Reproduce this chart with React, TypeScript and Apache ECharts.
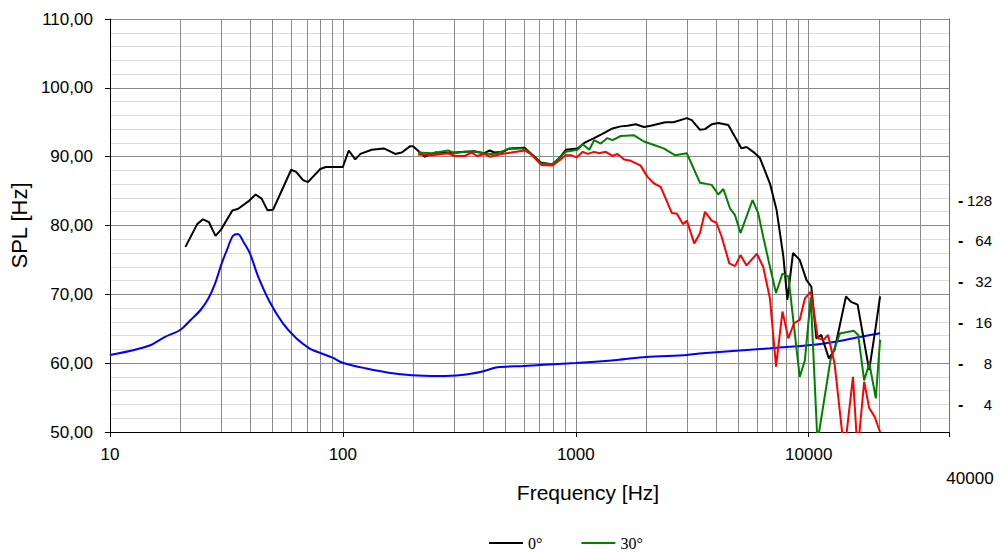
import React, { useEffect, useRef } from "react";
import * as echarts from "echarts";

// 0° on-axis SPL
const freq0 = [21.1, 23.7, 25.1, 26.6, 28.4, 30, 33.6, 35.4, 39.3, 42.2, 44.8, 47.5, 50.2, 60, 63, 67.5, 70.8, 80, 84.5, 93.2, 100, 106, 113, 119, 133, 150, 168, 179, 194, 200, 225, 250, 283, 302, 333, 367, 405, 427, 448, 487, 519, 603, 640, 710, 793, 836, 907, 1017, 1087, 1198, 1301, 1437, 1559, 1666, 1809, 1961, 2096, 2423, 2628, 2996, 3147, 3414, 3585, 3830, 4091, 4514, 5144, 5404, 5776, 6172, 6814, 7281, 7780, 8096, 8560, 9146, 9773, 10260, 10780, 11320, 12200, 12900, 14450, 15180, 16210, 18170, 19400, 20240];
const spl0 = [76.9, 80.2, 80.9, 80.5, 78.5, 79.4, 82.2, 82.4, 83.5, 84.5, 83.9, 82.2, 82.3, 88.1, 87.8, 86.6, 86.3, 88.2, 88.5, 88.5, 88.5, 90.9, 89.6, 90.4, 91.0, 91.2, 90.4, 90.6, 91.5, 91.5, 90.0, 90.6, 90.5, 90.6, 90.7, 90.8, 90.5, 90.9, 90.6, 90.7, 91.2, 91.3, 90.5, 89.1, 88.9, 89.5, 91.0, 91.2, 92.0, 92.7, 93.3, 94.1, 94.4, 94.5, 94.7, 94.3, 94.5, 95.0, 95.0, 95.6, 95.3, 93.9, 94.0, 94.7, 94.9, 94.6, 91.2, 91.4, 90.7, 89.8, 86.1, 82.2, 75.5, 69.2, 76.0, 75.0, 72.1, 71.1, 63.6, 64.1, 60.7, 61.9, 69.7, 68.9, 68.5, 59.0, 65.3, 69.7];

// 30° off-axis SPL
const freq30 = [210, 241, 283, 302, 333, 367, 405, 433, 463, 510, 583, 613, 710, 793, 907, 1017, 1071, 1143, 1198, 1280, 1367, 1437, 1559, 1780, 1961, 2167, 2383, 2672, 2996, 3414, 3830, 4091, 4300, 4590, 4826, 5093, 5738, 6066, 6372, 6814, 7236, 7710, 8174, 9146, 9625, 10200, 10900, 12400, 13600, 15600, 16300, 17290, 18200, 19400, 20240];
const spl30 = [90.6, 90.5, 90.9, 90.5, 90.7, 90.7, 90.5, 90.4, 90.5, 91.1, 91.2, 91.0, 89.0, 88.9, 90.7, 91.0, 91.8, 91.0, 92.4, 91.9, 92.7, 92.4, 93.0, 93.1, 92.2, 91.7, 91.2, 90.2, 90.5, 86.2, 85.9, 84.5, 85.3, 82.5, 81.5, 78.9, 83.7, 81.8, 78.4, 74.0, 70.2, 73.0, 72.6, 58.0, 60.4, 69.6, 48.5, 60.5, 64.3, 64.7, 64.1, 57.5, 60.0, 54.9, 63.4];

// 60° off-axis SPL (not in legend)
const freq60 = [210, 241, 283, 302, 333, 357, 377, 405, 427, 479, 528, 603, 640, 710, 793, 907, 952, 1010, 1071, 1125, 1198, 1259, 1344, 1437, 1509, 1612, 1723, 1898, 2027, 2167, 2314, 2585, 2717, 2882, 2996, 3224, 3414, 3585, 3830, 4012, 4225, 4560, 4826, 5093, 5404, 5990, 6372, 6814, 7236, 7710, 8174, 8640, 9146, 9625, 10210, 10940, 11590, 12100, 12900, 14220, 15480, 16210, 17290, 18170, 19190, 20240];
const spl60 = [90.3, 90.2, 90.5, 90.1, 90.1, 90.6, 90.1, 90.4, 90.0, 90.4, 90.6, 90.9, 90.4, 88.8, 88.7, 90.2, 90.2, 89.9, 90.7, 90.4, 90.7, 90.5, 90.7, 90.1, 90.4, 89.6, 89.4, 88.7, 87.1, 86.1, 85.6, 81.8, 81.7, 80.2, 80.7, 77.4, 78.9, 82.0, 80.7, 80.4, 78.4, 74.5, 74.1, 75.7, 74.2, 75.9, 74.0, 69.4, 59.5, 67.5, 63.6, 65.8, 66.3, 69.4, 70.4, 63.6, 63.4, 64.1, 60.0, 47.0, 58.0, 47.0, 57.3, 53.5, 52.2, 50.0];

// Impedance (ohm, right axis)
const freqZ = [10, 12.7, 15, 17.1, 20, 22.2, 24.5, 26.5, 28.3, 30.2, 32, 33.7, 35.4, 37.6, 39.9, 43.3, 48.5, 55.3, 63.1, 71.8, 79.3, 90.3, 99.6, 125, 157, 198, 257, 323, 393, 462, 600, 700, 1000, 1500, 2000, 3000, 3500, 6814, 10260, 13000, 16300, 20240];
const impZ = [9.32, 10.14, 11.03, 12.57, 14.21, 16.83, 19.93, 24.3, 31.3, 43.9, 56.6, 69.6, 72.0, 62.2, 52.0, 35.0, 22.9, 15.9, 12.36, 10.43, 9.69, 8.9, 8.18, 7.44, 6.91, 6.61, 6.53, 6.64, 7.02, 7.57, 7.73, 7.87, 8.14, 8.56, 9.01, 9.32, 9.59, 10.43, 11.03, 11.66, 12.57, 13.44];

const xTickLabels = [10, 100, 1000, 10000];
const xMinorLines = [20, 30, 40, 50, 60, 70, 80, 90, 200, 300, 400, 500, 600, 700, 800, 900, 2000, 3000, 4000, 5000, 6000, 7000, 8000, 9000, 20000, 30000];
const impTicks = [4, 8, 16, 32, 64, 128];

const zip = (a: number[], b: number[]) => a.map((f, i) => [f, b[i]]);

const SANS = "'Liberation Sans', Arial, sans-serif";
const NARROW = "'Liberation Sans Narrow', 'Arial Narrow', 'Liberation Sans', sans-serif";
const SERIF = "'Liberation Serif', 'Times New Roman', serif";

export default function App() {
  const ref = useRef<HTMLDivElement>(null);
  useEffect(() => {
    const chart = echarts.init(ref.current as HTMLDivElement, null, { renderer: "svg" });
    chart.setOption({
      animation: false,
      grid: { left: 102, right: 51, top: 19, bottom: 120, containLabel: false },
      legend: {
        data: ["0°", "30°"],
        left: 489,
        top: 535,
        padding: 0,
        icon: "rect",
        itemWidth: 34,
        itemHeight: 2,
        itemGap: 39,
        textStyle: { fontFamily: SERIF, fontSize: 16, color: "#000" },
      },
      xAxis: {
        type: "log",
        logBase: 10,
        min: 10,
        max: 40000,
        axisLine: { show: true, lineStyle: { color: "#000", width: 1 } },
        axisTick: { show: true, length: 5, lineStyle: { color: "#000" } },
        axisLabel: {
          margin: 14,
          fontFamily: SANS,
          fontSize: 17,
          color: "#000",
          formatter: (v: number) => {
            const r = Math.round(v);
            return xTickLabels.includes(r) ? String(r) : "";
          },
        },
        splitLine: { show: true, lineStyle: { color: "#8a8a8a", width: 1 } },
      },
      yAxis: [
        {
          type: "value",
          min: 50,
          max: 110,
          interval: 10,
          name: "SPL [Hz]",
          nameLocation: "middle",
          nameGap: 70,
          nameTextStyle: { fontFamily: SANS, fontSize: 22, color: "#000" },
          axisLine: { show: true, lineStyle: { color: "#000", width: 1 } },
          axisTick: { show: true, length: 5, lineStyle: { color: "#000" } },
          axisLabel: {
            margin: 17,
            fontFamily: SANS,
            fontSize: 17,
            color: "#000",
            formatter: (v: number) => v.toFixed(2).replace(".", ","),
          },
          splitLine: { show: true, lineStyle: { color: "#8a8a8a", width: 1 } },
          minorTick: { show: false, splitNumber: 5 },
          minorSplitLine: { show: true, lineStyle: { color: "#dcdcdc", width: 1 } },
        },
        {
          type: "log",
          logBase: 2,
          min: 2.534,
          max: 2730,
          position: "right",
          axisLine: { show: true, lineStyle: { color: "#707070", width: 1 } },
          axisTick: { show: false },
          splitLine: { show: false },
          axisLabel: {
            margin: 9,
            color: "#000",
            customValues: impTicks,
            showMinLabel: true,
            showMaxLabel: true,
            hideOverlap: false,
            formatter: (v: number) => `{d|-}{n|${Math.round(v)}}`,
            rich: {
              d: { width: 8, fontFamily: SANS, fontSize: 16, color: "#000", fontWeight: "bold" },
              n: { width: 26, align: "right", fontFamily: NARROW, fontSize: 15, color: "#000" },
            },
          },
        },
      ],
      series: [
        {
          name: "Impedance",
          type: "line",
          yAxisIndex: 1,
          data: zip(freqZ, impZ),
          symbol: "none",
          smooth: 0.3,
          lineStyle: { color: "#0000ff", width: 2 },
          itemStyle: { color: "#0000ff" },
          z: 3,
          markLine: {
            silent: true,
            z: 1,
            symbol: ["none", "none"],
            label: { show: false },
            lineStyle: { color: "#8a8a8a", width: 1, type: "solid" },
            emphasis: { disabled: true },
            data: xMinorLines.map((f) => ({ xAxis: f })),
          },
        },
        {
          name: "0°",
          type: "line",
          data: zip(freq0, spl0),
          symbol: "none",
          lineStyle: { color: "#000000", width: 2 },
          itemStyle: { color: "#000000" },
          z: 4,
        },
        {
          name: "30°",
          type: "line",
          data: zip(freq30, spl30),
          symbol: "none",
          lineStyle: { color: "#008000", width: 2 },
          itemStyle: { color: "#008000" },
          z: 5,
        },
        {
          name: "60°",
          type: "line",
          data: zip(freq60, spl60),
          symbol: "none",
          lineStyle: { color: "#ff0000", width: 2 },
          itemStyle: { color: "#ff0000" },
          z: 6,
        },
      ],
      graphic: [
        {
          type: "text",
          x: 970,
          y: 478,
          style: { text: "40000", fontFamily: SANS, fontSize: 17, fill: "#000", align: "center", verticalAlign: "middle" },
        },
        {
          type: "text",
          x: 588,
          y: 492,
          style: { text: "Frequency [Hz]", fontFamily: SANS, fontSize: 21, fill: "#000", align: "center", verticalAlign: "middle" },
        },
      ],
    });
    return () => chart.dispose();
  }, []);
  return <div ref={ref} style={{ position: "absolute", left: 0, top: 0, width: 1000, height: 552 }} />;
}
